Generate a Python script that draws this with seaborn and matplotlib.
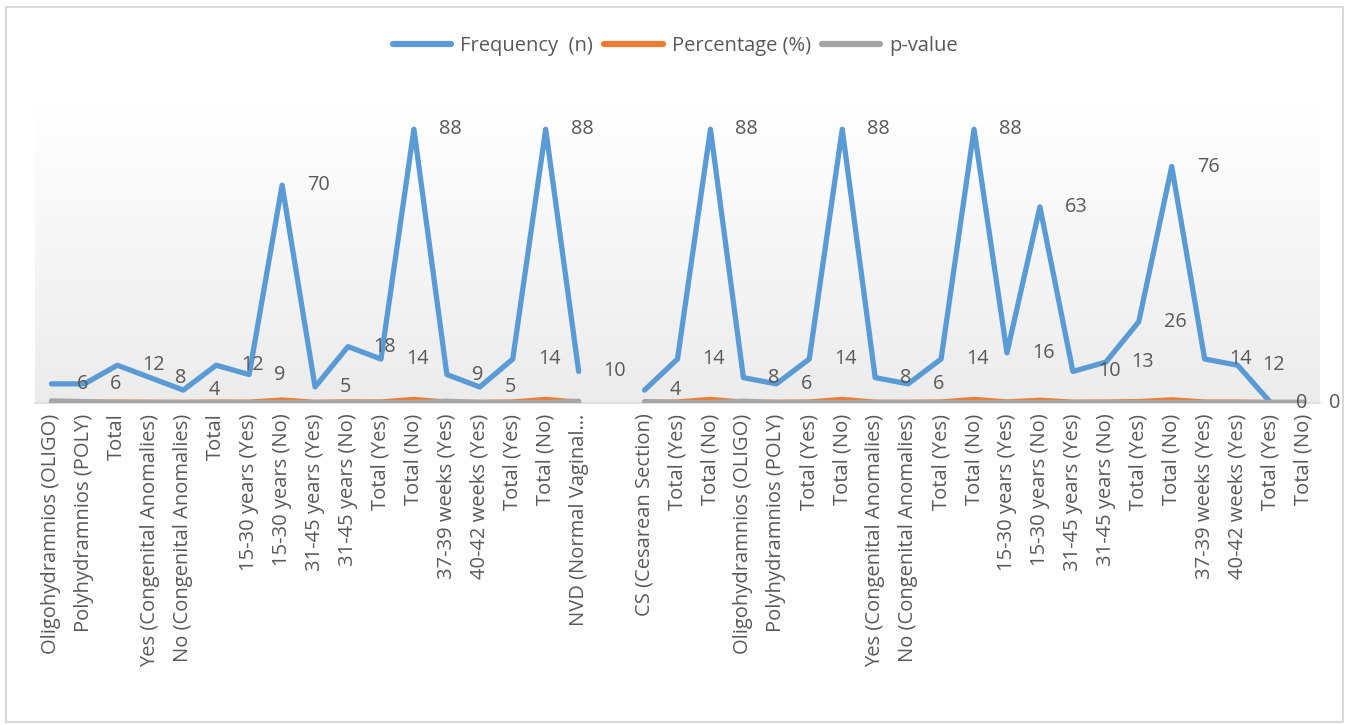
import numpy as np
import pandas as pd
import matplotlib
matplotlib.use("Agg")
import matplotlib.pyplot as plt
import seaborn as sns
from matplotlib.lines import Line2D
from matplotlib.patches import Rectangle

# ---------------- data ----------------
categories = [
    "Oligohydramnios (OLIGO)", "Polyhydramnios (POLY)", "Total",
    "Yes (Congenital Anomalies)", "No (Congenital Anomalies)", "Total",
    "15-30 years (Yes)", "15-30 years (No)", "31-45 years (Yes)", "31-45 years (No)",
    "Total (Yes)", "Total (No)", "37-39 weeks (Yes)", "40-42 weeks (Yes)",
    "Total (Yes)", "Total (No)", "NVD (Normal Vaginal\u2026", "",
    "CS (Cesarean Section)", "Total (Yes)", "Total (No)",
    "Oligohydramnios (OLIGO)", "Polyhydramnios (POLY)", "Total (Yes)", "Total (No)",
    "Yes (Congenital Anomalies)", "No (Congenital Anomalies)", "Total (Yes)", "Total (No)",
    "15-30 years (Yes)", "15-30 years (No)", "31-45 years (Yes)", "31-45 years (No)",
    "Total (Yes)", "Total (No)", "37-39 weeks (Yes)", "40-42 weeks (Yes)",
    "Total (Yes)", "Total (No)",
]
nan = np.nan
frequency = [6, 6, 12, 8, 4, 12, 9, 70, 5, 18, 14, 88, 9, 5, 14, 88, 10, nan,
             4, 14, 88, 8, 6, 14, 88, 8, 6, 14, 88, 16, 63, 10, 13, 26, 76, 14, 12, 0, 0]
percentage = [0.07, 0.07, 0.14, 0.09, 0.05, 0.14, 0.10, 0.80, 0.06, 0.20, 0.16, 1.0,
              0.10, 0.06, 0.16, 1.0, 0.11, nan, 0.05, 0.16, 1.0, 0.09, 0.07, 0.16, 1.0,
              0.09, 0.07, 0.16, 1.0, 0.18, 0.72, 0.11, 0.15, 0.30, 0.86, 0.16, 0.14, 0, 0]
p_value = [0.5, 0.3, 0, 0, 0, 0, 0, 0, 0, 0, 0, 0, 0.4, 0, 0, 0, 0.4, nan,
           0.3, 0, 0, 0.4, 0, 0, 0, 0, 0, 0, 0, 0, 0, 0, 0, 0, 0, 0, 0, 0, 0]
series_names = ["Frequency  (n)", "Percentage (%)", "p-value"]
series_colors = ["#5B9BD5", "#ED7D31", "#A5A5A5"]

# ---------------- frame ----------------
rows = []
for name, vals in zip(series_names, [frequency, percentage, p_value]):
    for i, v in enumerate(vals):
        rows.append({"x": i, "value": v, "series": name, "segment": int(i > 17)})
df = pd.DataFrame(rows).dropna()

sns.set_style("white")
plt.rcParams["font.family"] = ["Open Sans", "DejaVu Sans"]
text_color = "#595959"

W, H = 1351, 725
fig = plt.figure(figsize=(W / 100, H / 100), dpi=100)
fig.patch.set_facecolor("white")

ax_left, ax_right, ax_bottom_px, ax_top_px = 35, 1320, 402.5, 107.5
ax = fig.add_axes([ax_left / W, 1 - ax_bottom_px / H,
                   (ax_right - ax_left) / W, (ax_bottom_px - ax_top_px) / H])

# gradient background of plot area
grad = np.linspace(1.0, 0.925, 256)
img = np.dstack([grad, grad, grad]).reshape(256, 1, 3)
ax.imshow(img, extent=[0, 1, 0, 1], transform=ax.transAxes, aspect="auto",
          zorder=0, interpolation="bilinear")

sns.lineplot(data=df, x="x", y="value", hue="series", units="segment",
             estimator=None, sort=False, hue_order=series_names,
             palette=dict(zip(series_names, series_colors)),
             linewidth=3.8, legend=False, ax=ax, zorder=3,
             solid_capstyle="round", solid_joinstyle="round")

# data labels (frequency), placed right of each point
for i, v in enumerate(frequency):
    if not np.isnan(v):
        ax.annotate(f"{v:g}", (i, v), xytext=(25, 0), textcoords="offset pixels",
                    ha="left", va="center", fontsize=14.3, color=text_color,
                    annotation_clip=False, zorder=5)

ax.set_xlim(-0.5, len(categories) - 0.5)
ax.set_ylim(0, 95)
ax.set_xticks(range(len(categories)))
ax.set_xticklabels(categories, rotation=90, ha="center", va="top",
                   fontsize=14.5, color=text_color)
ax.tick_params(axis="x", length=0, pad=8)
ax.set_yticks([])
ax.set_xlabel("")
ax.set_ylabel("")
for s in ["top", "left", "right"]:
    ax.spines[s].set_visible(False)
ax.spines["bottom"].set_color("#d9d9d9")
ax.spines["bottom"].set_linewidth(1.2)

handles = [Line2D([0], [0], color=c, lw=4.5, solid_capstyle="round") for c in series_colors]
fig.legend(handles, series_names, loc="center", bbox_to_anchor=(0.5, 1 - 46 / H),
           ncol=3, frameon=False, fontsize=14.5, handlelength=2.9,
           handletextpad=0.45, columnspacing=0.55, labelcolor=text_color)

fig.patches.append(Rectangle((6 / W, 1 - 722 / H), (1343 - 6) / W, (722 - 7) / H,
                             transform=fig.transFigure, fill=False,
                             edgecolor="#d9d9d9", linewidth=1.5))

fig.savefig("out.png", dpi=100)
